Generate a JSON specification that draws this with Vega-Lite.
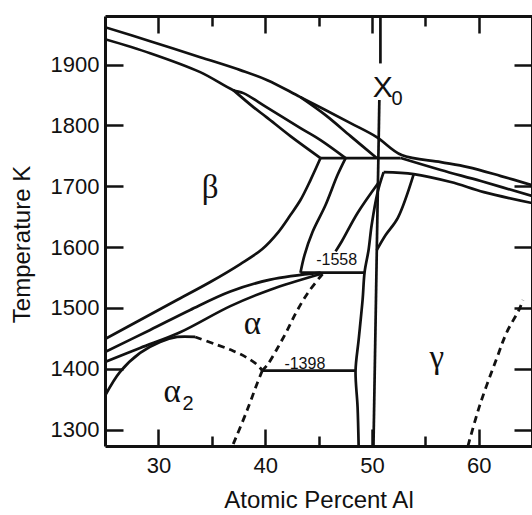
{
  "$schema": "https://vega.github.io/schema/vega-lite/v6.json",
  "width": 427,
  "height": 430,
  "autosize": {"type": "none"},
  "padding": {"left": 105, "top": 16, "right": 0, "bottom": 69},
  "background": "white",
  "config": {"view": {"stroke": null}, "font": "Liberation Sans"},
  "datasets": {
    "solid": [
      {"id": "A", "o": 1, "x": 25, "t": 1961.6},
      {"id": "A", "o": 2, "x": 29.23, "t": 1938.6},
      {"id": "A", "o": 3, "x": 33.92, "t": 1912.3},
      {"id": "A", "o": 4, "x": 37.68, "t": 1891.0},
      {"id": "A", "o": 5, "x": 40.21, "t": 1874.5},
      {"id": "A", "o": 6, "x": 43.31, "t": 1846.6},
      {"id": "A", "o": 7, "x": 48.0, "t": 1803.9},
      {"id": "A", "o": 8, "x": 50.45, "t": 1780.9},
      {"id": "A", "o": 9, "x": 52.79, "t": 1751.3},
      {"id": "A", "o": 10, "x": 56.46, "t": 1739.8},
      {"id": "A", "o": 11, "x": 58.99, "t": 1731.6},
      {"id": "A", "o": 12, "x": 62.09, "t": 1716.8},
      {"id": "A", "o": 13, "x": 65, "t": 1702},
      {"id": "B", "o": 1, "x": 25, "t": 1941.9},
      {"id": "B", "o": 2, "x": 29.23, "t": 1918.9},
      {"id": "B", "o": 3, "x": 33.92, "t": 1887.7},
      {"id": "B", "o": 4, "x": 37.02, "t": 1858.1},
      {"id": "B", "o": 5, "x": 37.96, "t": 1853.2},
      {"id": "B", "o": 6, "x": 40.12, "t": 1830.2},
      {"id": "B", "o": 7, "x": 43.31, "t": 1795.7},
      {"id": "B", "o": 8, "x": 45.19, "t": 1776.0},
      {"id": "B", "o": 9, "x": 47.54, "t": 1746.4},
      {"id": "B2", "o": 1, "x": 37.02, "t": 1858.1},
      {"id": "B2", "o": 2, "x": 38.9, "t": 1830.2},
      {"id": "B2", "o": 3, "x": 40.12, "t": 1813.8},
      {"id": "B2", "o": 4, "x": 42.37, "t": 1782.5},
      {"id": "B2", "o": 5, "x": 45.19, "t": 1746.4},
      {"id": "C", "o": 1, "x": 43.31, "t": 1846.6},
      {"id": "C", "o": 2, "x": 45.66, "t": 1817.0},
      {"id": "C", "o": 3, "x": 48.0, "t": 1782.5},
      {"id": "C", "o": 4, "x": 50.45, "t": 1746.4},
      {"id": "D", "o": 1, "x": 45.19, "t": 1746.4},
      {"id": "D", "o": 2, "x": 52.7, "t": 1746.4},
      {"id": "E", "o": 1, "x": 52.7, "t": 1746.4},
      {"id": "E", "o": 2, "x": 56.46, "t": 1726.7},
      {"id": "E", "o": 3, "x": 60.21, "t": 1708.6},
      {"id": "E", "o": 4, "x": 65, "t": 1684},
      {"id": "F", "o": 1, "x": 51.1, "t": 1723.4},
      {"id": "F", "o": 2, "x": 53.92, "t": 1720.1},
      {"id": "F", "o": 3, "x": 57.39, "t": 1707.0},
      {"id": "F", "o": 4, "x": 60.49, "t": 1690.5},
      {"id": "F", "o": 5, "x": 65, "t": 1672.5},
      {"id": "X0a", "o": 1, "x": 50.8, "t": 1980},
      {"id": "X0a", "o": 2, "x": 50.8, "t": 1902},
      {"id": "X0b", "o": 1, "x": 50.7, "t": 1842},
      {"id": "X0b", "o": 2, "x": 50.15, "t": 1273},
      {"id": "G1", "o": 1, "x": 51.1, "t": 1723.4},
      {"id": "G1", "o": 2, "x": 50.54, "t": 1690.5},
      {"id": "G1", "o": 3, "x": 49.98, "t": 1636.3},
      {"id": "G1", "o": 4, "x": 49.69, "t": 1595.2},
      {"id": "G1", "o": 5, "x": 49.32, "t": 1559.1},
      {"id": "G1", "o": 6, "x": 49.13, "t": 1513.1},
      {"id": "G1", "o": 7, "x": 48.76, "t": 1447.4},
      {"id": "G1", "o": 8, "x": 48.47, "t": 1396.4},
      {"id": "G1", "o": 9, "x": 48.66, "t": 1337.3},
      {"id": "G1", "o": 10, "x": 48.76, "t": 1273},
      {"id": "G3", "o": 1, "x": 53.92, "t": 1720.1},
      {"id": "G3", "o": 2, "x": 52.42, "t": 1647.8},
      {"id": "G3", "o": 3, "x": 51.29, "t": 1619.9},
      {"id": "G3", "o": 4, "x": 50.46, "t": 1595.2},
      {"id": "G4", "o": 1, "x": 50.6, "t": 1705.3},
      {"id": "G4", "o": 2, "x": 48.66, "t": 1656.0},
      {"id": "G4", "o": 3, "x": 47.2, "t": 1610},
      {"id": "G4", "o": 4, "x": 46.6, "t": 1593},
      {"id": "H1", "o": 1, "x": 45.19, "t": 1746.4},
      {"id": "H1", "o": 2, "x": 44.25, "t": 1710.2},
      {"id": "H1", "o": 3, "x": 43.31, "t": 1677.4},
      {"id": "H1", "o": 4, "x": 42.37, "t": 1652.7},
      {"id": "H1", "o": 5, "x": 41.24, "t": 1624.8},
      {"id": "H1", "o": 6, "x": 39.74, "t": 1597},
      {"id": "H1", "o": 7, "x": 37.68, "t": 1572.2},
      {"id": "H1", "o": 8, "x": 34.86, "t": 1542.7},
      {"id": "H1", "o": 9, "x": 31.57, "t": 1511.5},
      {"id": "H1", "o": 10, "x": 28.29, "t": 1480.2},
      {"id": "H1", "o": 11, "x": 25, "t": 1449.0},
      {"id": "H2", "o": 1, "x": 47.54, "t": 1746.4},
      {"id": "H2", "o": 2, "x": 46.78, "t": 1718.5},
      {"id": "H2", "o": 3, "x": 45.66, "t": 1669.2},
      {"id": "H2", "o": 4, "x": 44.44, "t": 1624.8},
      {"id": "H2", "o": 5, "x": 43.69, "t": 1587.0},
      {"id": "H2", "o": 6, "x": 43.31, "t": 1558},
      {"id": "I1", "o": 1, "x": 25, "t": 1427.6},
      {"id": "I1", "o": 2, "x": 29.23, "t": 1463.8},
      {"id": "I1", "o": 3, "x": 32.98, "t": 1496.7},
      {"id": "I1", "o": 4, "x": 36.74, "t": 1527},
      {"id": "I1", "o": 5, "x": 40.49, "t": 1546.5},
      {"id": "I1", "o": 6, "x": 45.19, "t": 1558},
      {"id": "I2", "o": 1, "x": 25, "t": 1411.2},
      {"id": "I2", "o": 2, "x": 28.29, "t": 1434.2},
      {"id": "I2", "o": 3, "x": 32.04, "t": 1460},
      {"id": "I2", "o": 4, "x": 36.74, "t": 1503},
      {"id": "I2", "o": 5, "x": 40.49, "t": 1530},
      {"id": "I2", "o": 6, "x": 45.19, "t": 1555.8},
      {"id": "P1558", "o": 1, "x": 43.31, "t": 1558},
      {"id": "P1558", "o": 2, "x": 49.35, "t": 1558},
      {"id": "P1398", "o": 1, "x": 39.74, "t": 1397},
      {"id": "P1398", "o": 2, "x": 48.47, "t": 1397},
      {"id": "K", "o": 1, "x": 25, "t": 1355.4},
      {"id": "K", "o": 2, "x": 26.41, "t": 1394.8},
      {"id": "K", "o": 3, "x": 28.29, "t": 1426.0},
      {"id": "K", "o": 4, "x": 30.16, "t": 1444.1},
      {"id": "K", "o": 5, "x": 31.76, "t": 1452.3},
      {"id": "K", "o": 6, "x": 33.45, "t": 1452.3}
    ],
    "dashed": [
      {"id": "L1", "o": 1, "x": 45.38, "t": 1555.8},
      {"id": "L1", "o": 2, "x": 44.06, "t": 1526.2},
      {"id": "L1", "o": 3, "x": 42.93, "t": 1493.4},
      {"id": "L1", "o": 4, "x": 41.99, "t": 1460.5},
      {"id": "L1", "o": 5, "x": 41.06, "t": 1430.9},
      {"id": "L1", "o": 6, "x": 40.21, "t": 1406.3},
      {"id": "L1", "o": 7, "x": 39.74, "t": 1397},
      {"id": "L2", "o": 1, "x": 33.45, "t": 1452.3},
      {"id": "L2", "o": 2, "x": 35.52, "t": 1439.2},
      {"id": "L2", "o": 3, "x": 37.02, "t": 1429.3},
      {"id": "L2", "o": 4, "x": 38.33, "t": 1417.8},
      {"id": "L2", "o": 5, "x": 39.27, "t": 1406.3},
      {"id": "L2", "o": 6, "x": 39.74, "t": 1397},
      {"id": "L3", "o": 1, "x": 39.74, "t": 1397},
      {"id": "L3", "o": 2, "x": 39.27, "t": 1376.7},
      {"id": "L3", "o": 3, "x": 38.33, "t": 1332.4},
      {"id": "L3", "o": 4, "x": 37.02, "t": 1276.5},
      {"id": "L3", "o": 5, "x": 36.93, "t": 1273},
      {"id": "L4", "o": 1, "x": 59.0, "t": 1273},
      {"id": "L4", "o": 2, "x": 60.12, "t": 1340.6},
      {"id": "L4", "o": 3, "x": 61.71, "t": 1417.8},
      {"id": "L4", "o": 4, "x": 62.65, "t": 1460.5},
      {"id": "L4", "o": 5, "x": 63.78, "t": 1496.7},
      {"id": "L4", "o": 6, "x": 64.15, "t": 1513}
    ],
    "greek": [
      {"label": "β", "x": 34.86, "t": 1680},
      {"label": "α", "x": 38.8, "t": 1457},
      {"label": "α", "x": 31.29, "t": 1345.5},
      {"label": "γ", "x": 56.08, "t": 1401.5}
    ],
    "subs": [
      {"label": "2", "x": 32.79, "t": 1332.4},
      {"label": "0", "x": 52.37, "t": 1833.5}
    ],
    "xlabel": [
      {"label": "X", "x": 51.01, "t": 1846.6}
    ],
    "temps": [
      {"label": "-1558", "x": 46.7, "t": 1570.6},
      {"label": "-1398", "x": 43.72, "t": 1400}
    ]
  },
  "layer": [
    {
      "data": {"name": "solid"},
      "mark": {"type": "line", "color": "#111", "strokeWidth": 2.7, "clip": true, "interpolate": "catmull-rom"},
      "encoding": {
        "detail": {"field": "id", "type": "nominal"},
        "order": {"field": "o", "type": "quantitative"},
        "x": {
          "field": "x", "type": "quantitative",
          "scale": {"domain": [25, 65], "nice": false, "zero": false},
          "axis": {
            "orient": "bottom",
            "values": [30, 35, 40, 45, 50, 55, 60],
            "format": "d",
            "title": "Atomic Percent Al",
            "titleFont": "Liberation Sans", "titleFontSize": 24, "titleFontWeight": "normal", "titleColor": "#111",
            "titleY": 61, "titleBaseline": "alphabetic",
            "labelFont": "Liberation Sans", "labelFontSize": 22, "labelColor": "#111",
            "labelExpr": "datum.value % 10 === 0 ? datum.label : ''",
            "labelPadding": 26, "labelFlush": false, "labelOverlap": false,
            "tickSize": {"condition": {"test": "datum.value % 10 === 0", "value": -17}, "value": -10},
            "tickWidth": 2.5, "tickColor": "#111",
            "domainWidth": 3, "domainColor": "#111", "grid": false
          }
        },
        "y": {
          "field": "t", "type": "quantitative",
          "scale": {"domain": [1273, 1980], "nice": false, "zero": false},
          "axis": {
            "orient": "left",
            "values": [1300, 1400, 1500, 1600, 1700, 1800, 1900],
            "format": "d",
            "title": "Temperature K",
            "titleFont": "Liberation Sans", "titleFontSize": 24, "titleFontWeight": "normal", "titleColor": "#111",
            "titleX": -76, "titleY": 228, "titleBaseline": "alphabetic", "titleAngle": 270,
            "labelFont": "Liberation Sans", "labelFontSize": 22, "labelColor": "#111",
            "labelPadding": 24, "labelFlush": false, "labelOverlap": false,
            "tickSize": -18, "tickWidth": 2.5, "tickColor": "#111",
            "domainWidth": 3, "domainColor": "#111", "grid": false
          }
        }
      }
    },
    {
      "data": {"name": "dashed"},
      "mark": {"type": "line", "color": "#111", "strokeWidth": 2.8, "strokeDash": [7, 5], "clip": true, "interpolate": "catmull-rom"},
      "encoding": {
        "detail": {"field": "id", "type": "nominal"},
        "order": {"field": "o", "type": "quantitative"},
        "x": {
          "field": "x", "type": "quantitative",
          "scale": {"domain": [25, 65], "nice": false, "zero": false},
          "axis": {
            "orient": "top",
            "values": [30, 35, 40, 45, 50, 55, 60],
            "title": null, "labels": false,
            "tickSize": {"condition": {"test": "datum.value % 10 === 0", "value": -17}, "value": -10},
            "tickWidth": 2.5, "tickColor": "#111",
            "domainWidth": 3, "domainColor": "#111", "grid": false
          }
        },
        "y": {
          "field": "t", "type": "quantitative",
          "scale": {"domain": [1273, 1980], "nice": false, "zero": false},
          "axis": {
            "orient": "right",
            "values": [1300, 1400, 1500, 1600, 1700, 1800, 1900],
            "title": null, "labels": false,
            "tickSize": -18, "tickWidth": 2.5, "tickColor": "#111",
            "domainWidth": 3, "domainColor": "#111", "grid": false
          }
        }
      }
    },
    {
      "data": {"name": "greek"},
      "mark": {"type": "text", "font": "Liberation Serif", "fontSize": 33, "color": "#111", "align": "center", "baseline": "alphabetic"},
      "encoding": {
        "x": {"field": "x", "type": "quantitative", "axis": null},
        "y": {"field": "t", "type": "quantitative", "axis": null},
        "text": {"field": "label"}
      }
    },
    {
      "data": {"name": "subs"},
      "mark": {"type": "text", "font": "Liberation Sans", "fontSize": 20, "color": "#111", "align": "center", "baseline": "alphabetic"},
      "encoding": {
        "x": {"field": "x", "type": "quantitative", "axis": null},
        "y": {"field": "t", "type": "quantitative", "axis": null},
        "text": {"field": "label"}
      }
    },
    {
      "data": {"name": "xlabel"},
      "mark": {"type": "text", "font": "Liberation Sans", "fontSize": 30, "color": "#111", "align": "center", "baseline": "alphabetic"},
      "encoding": {
        "x": {"field": "x", "type": "quantitative", "axis": null},
        "y": {"field": "t", "type": "quantitative", "axis": null},
        "text": {"field": "label"}
      }
    },
    {
      "data": {"name": "temps"},
      "mark": {"type": "text", "font": "Liberation Sans", "fontSize": 16, "color": "#111", "align": "center", "baseline": "alphabetic"},
      "encoding": {
        "x": {"field": "x", "type": "quantitative", "axis": null},
        "y": {"field": "t", "type": "quantitative", "axis": null},
        "text": {"field": "label"}
      }
    }
  ],
  "resolve": {"axis": {"x": "independent", "y": "independent"}}
}
